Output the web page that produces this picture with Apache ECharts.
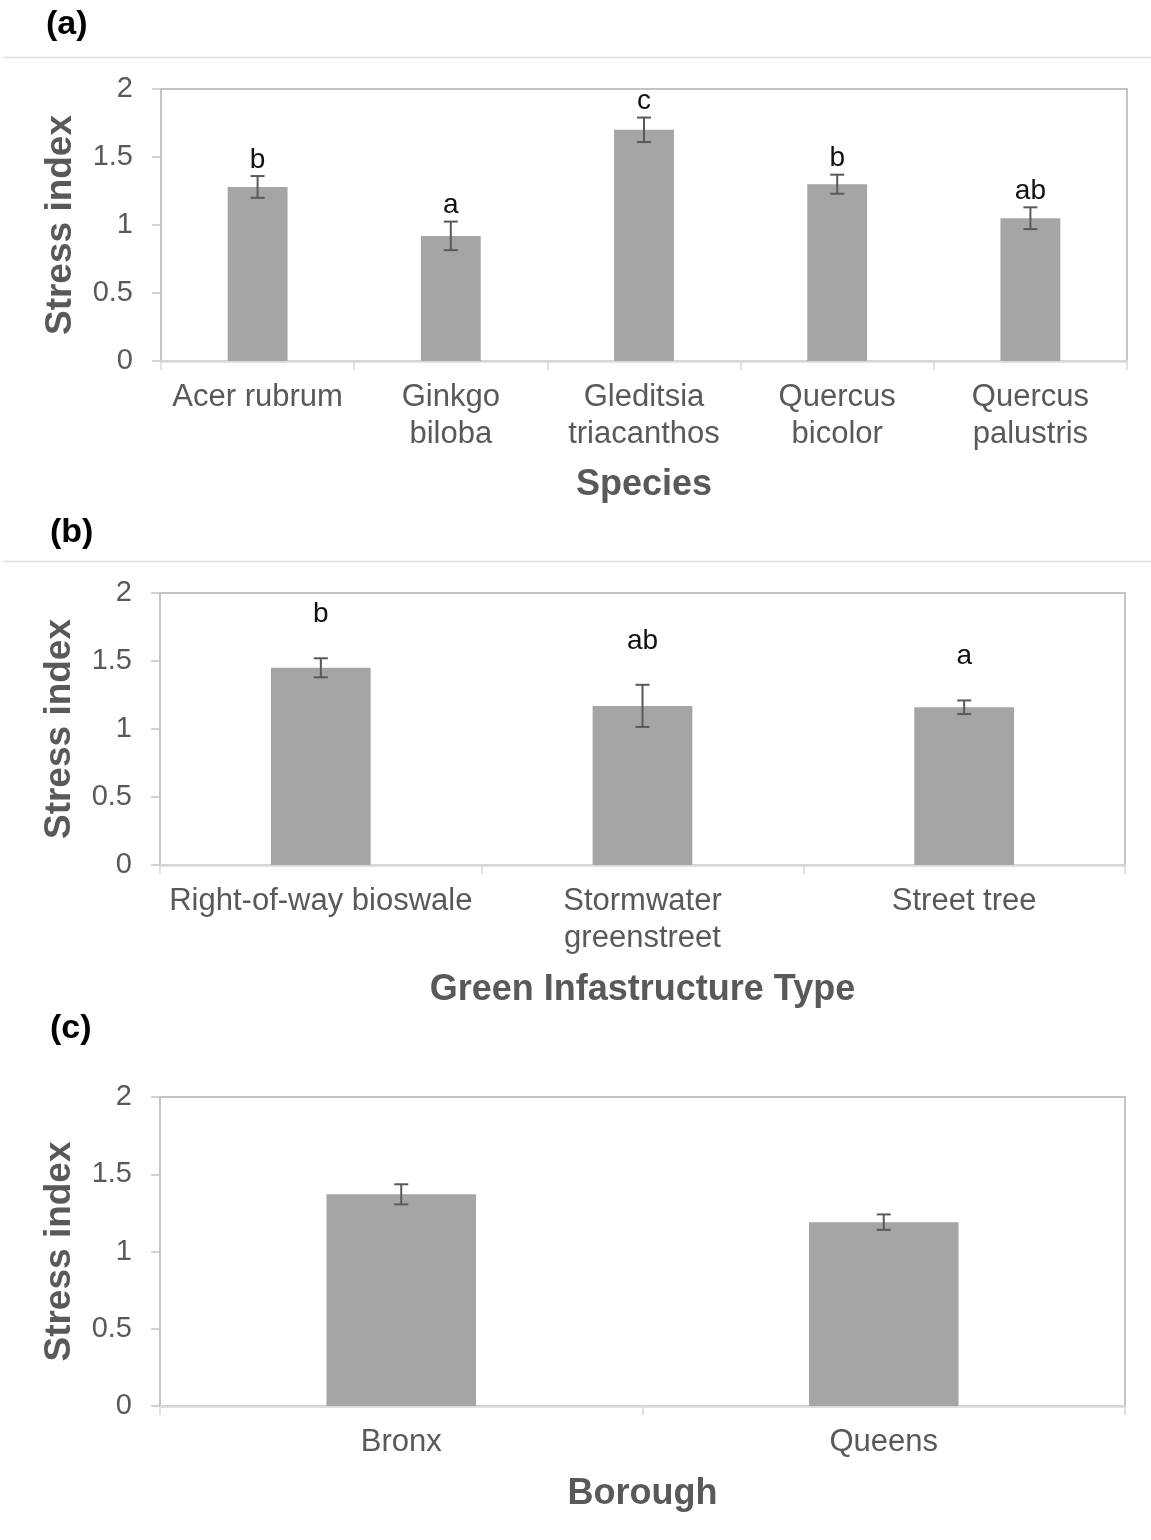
<!DOCTYPE html>
<html><head><meta charset="utf-8">
<script src="https://cdn.jsdelivr.net/npm/echarts@6/dist/echarts.min.js"></script>
<style>html,body{margin:0;padding:0;background:#fff}#c{width:1151px;height:1540px}</style>
</head><body><div id="c"></div>
<script>
// ---- data ----
const speciesCats = ['Acer rubrum', 'Ginkgo\nbiloba', 'Gleditsia\ntriacanthos', 'Quercus\nbicolor', 'Quercus\npalustris'];
const speciesMean = [1.28, 0.92, 1.70, 1.30, 1.05];
const speciesErr = [0.08, 0.105, 0.09, 0.07, 0.08];
const speciesLetters = ['b', 'a', 'c', 'b', 'ab'];

const giCats = ['Right-of-way bioswale', 'Stormwater\ngreenstreet', 'Street tree'];
const giMean = [1.45, 1.17, 1.16];
const giErr = [0.07, 0.155, 0.05];
const giLetters = ['b', 'ab', 'a'];

const boroughCats = ['Bronx', 'Queens'];
const boroughMean = [1.37, 1.19];
const boroughErr = [0.065, 0.05];
const boroughLetters = [];

const yTicks = [0, 0.5, 1, 1.5, 2];
const yTitle = 'Stress index';
const xTitles = ['Species', 'Green Infastructure Type', 'Borough'];
const panelTags = ['(a)', '(b)', '(c)'];

// ---- layout / style ----
const FONT = '"Liberation Sans", Arial, sans-serif';
const panels = [
  {cats: speciesCats, mean: speciesMean, err: speciesErr, letters: speciesLetters, left: 161, right: 24, top: 89, height: 272, nameGap: 106, letterOffset: 16},
  {cats: giCats, mean: giMean, err: giErr, letters: giLetters, left: 160, right: 26, top: 593, height: 272, nameGap: 107, letterOffset: 44},
  {cats: boroughCats, mean: boroughMean, err: boroughErr, letters: boroughLetters, left: 160, right: 26, top: 1097, height: 309, nameGap: 70, letterOffset: 16}
];

const grids = [], xAxes = [], yAxes = [], series = [];
panels.forEach((p, k) => {
  grids.push({left: p.left, right: p.right, top: p.top, height: p.height, show: true,
    borderColor: '#c4c4c4', borderWidth: 2, backgroundColor: 'transparent'});
  xAxes.push({
    type: 'category', gridIndex: k, data: p.cats,
    name: xTitles[k], nameLocation: 'middle', nameGap: p.nameGap,
    nameTextStyle: {fontFamily: FONT, fontSize: 36, fontWeight: 'bold', color: '#595959'},
    axisLine: {lineStyle: {color: '#d9d9d9', width: 2.5}},
    axisTick: {show: true, interval: 0, length: 9, lineStyle: {color: '#d9d9d9', width: 1.5}},
    axisLabel: {interval: 0, margin: 18, fontFamily: FONT, fontSize: 31, lineHeight: 37, color: '#595959'}
  });
  yAxes.push({
    type: 'value', gridIndex: k, min: yTicks[0], max: yTicks[yTicks.length - 1], interval: yTicks[1] - yTicks[0],
    name: yTitle, nameLocation: 'middle', nameGap: 82,
    nameTextStyle: {fontFamily: FONT, fontSize: 37, fontWeight: 'bold', color: '#595959'},
    axisLine: {show: true, lineStyle: {color: '#c4c4c4', width: 2}},
    axisTick: {show: true, length: 9, lineStyle: {color: '#c4c4c4', width: 1.5}},
    splitLine: {show: false},
    axisLabel: {margin: 28, fontFamily: FONT, fontSize: 29, color: '#595959'}
  });
  series.push({
    type: 'bar', xAxisIndex: k, yAxisIndex: k, data: p.mean, barWidth: '31%',
    itemStyle: {color: '#a5a5a5'}, z: 2
  });
  const letters = p.letters, off = p.letterOffset;
  series.push({
    type: 'custom', xAxisIndex: k, yAxisIndex: k, clip: false, z: 3,
    data: p.mean.map((v, i) => [i, v - p.err[i], v + p.err[i]]),
    encode: {x: 0, y: [1, 2]},
    renderItem: (params, api) => {
      const x = api.value(0), lo = api.value(1), hi = api.value(2);
      const a = api.coord([x, lo]), b = api.coord([x, hi]);
      const cw = 7;
      const st = {stroke: '#595959', lineWidth: 2};
      const children = [
        {type: 'line', shape: {x1: a[0], y1: a[1], x2: b[0], y2: b[1]}, style: st},
        {type: 'line', shape: {x1: a[0] - cw, y1: a[1], x2: a[0] + cw, y2: a[1]}, style: st},
        {type: 'line', shape: {x1: b[0] - cw, y1: b[1], x2: b[0] + cw, y2: b[1]}, style: st}
      ];
      if (letters[params.dataIndex]) {
        children.push({type: 'text', x: b[0], y: b[1] - off,
          style: {text: letters[params.dataIndex], fill: '#111', fontFamily: FONT, fontSize: 28,
            align: 'center', verticalAlign: 'middle'}});
      }
      return {type: 'group', children};
    }
  });
});

const graphic = [
  {type: 'line', shape: {x1: 3, y1: 57.5, x2: 1151, y2: 57.5}, style: {stroke: '#e0e0e0', lineWidth: 1.5}},
  {type: 'line', shape: {x1: 3, y1: 561.5, x2: 1151, y2: 561.5}, style: {stroke: '#e0e0e0', lineWidth: 1.5}},
  {type: 'text', left: 46, top: 8, style: {text: panelTags[0], fontFamily: FONT, fontSize: 34, fontWeight: 'bold', fill: '#000'}},
  {type: 'text', left: 50, top: 516, style: {text: panelTags[1], fontFamily: FONT, fontSize: 34, fontWeight: 'bold', fill: '#000'}},
  {type: 'text', left: 50, top: 1012, style: {text: panelTags[2], fontFamily: FONT, fontSize: 34, fontWeight: 'bold', fill: '#000'}}
];

const chart = echarts.init(document.getElementById('c'), null, {renderer: 'canvas'});
chart.setOption({animation: false, backgroundColor: '#fff', grid: grids, xAxis: xAxes, yAxis: yAxes, series, graphic});
</script></body></html>
